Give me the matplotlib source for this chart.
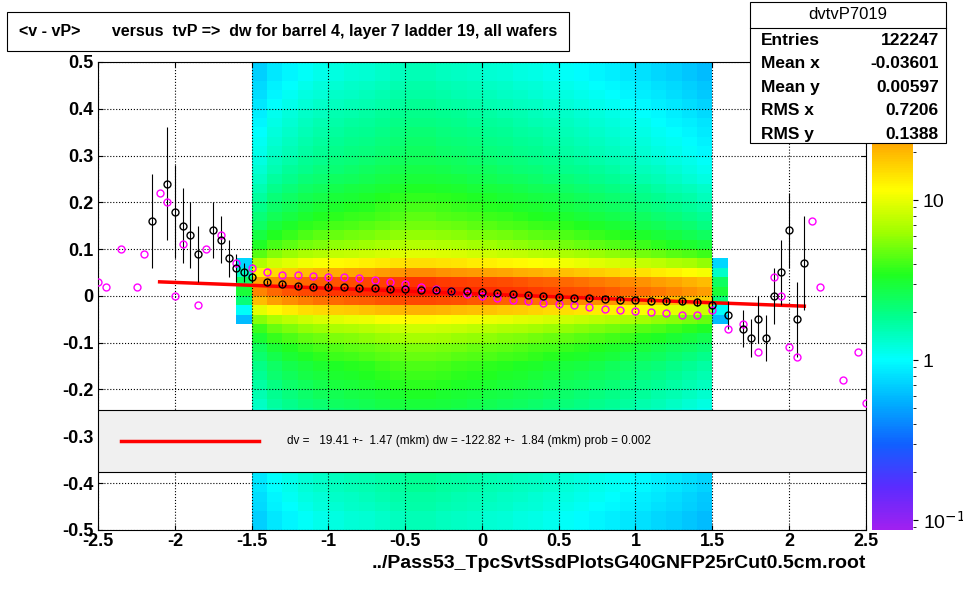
import numpy as np
import matplotlib
matplotlib.use('Agg')
import matplotlib.pyplot as plt
from matplotlib.colors import LinearSegmentedColormap, LogNorm
from matplotlib.patches import Rectangle

plt.rcParams['font.family'] = ['Liberation Sans', 'DejaVu Sans']

# column peak counts (x centers -2.45..2.45 step 0.1)
col_x = np.round(np.arange(-2.45, 2.5, 0.1), 2)
col_peak = [0, 0, 0, 0, 0, 0, 0, 0, 0, 3,
            28, 34, 38, 42, 45, 48, 50, 52, 55, 58,
            60, 60, 58, 56, 54, 52, 50, 48, 46, 44,
            42, 40, 38, 36, 34, 32, 30, 28, 26, 24,
            3, 0, 0, 0, 0, 0, 0, 0, 0, 0]
# row shape (y centers -0.49..0.49 step 0.02)
row_shape = [0.025, 0.025, 0.027, 0.028, 0.03, 0.03, 0.032, 0.034, 0.036, 0.038,
             0.04, 0.043, 0.046, 0.05, 0.055, 0.06, 0.065, 0.07, 0.08, 0.09,
             0.11, 0.14, 0.2, 0.35, 0.7, 1.0, 0.8, 0.45, 0.25, 0.16,
             0.12, 0.1, 0.085, 0.075, 0.068, 0.062, 0.056, 0.05, 0.046, 0.043,
             0.04, 0.038, 0.036, 0.034, 0.032, 0.03, 0.028, 0.027, 0.025, 0.025]

# black profile
blk_x = [-2.15, -2.05, -2.0, -1.95, -1.9, -1.85, -1.75, -1.7, -1.65, -1.6, -1.55, -1.5,
         -1.4, -1.3, -1.2, -1.1, -1.0, -0.9, -0.8, -0.7, -0.6, -0.5, -0.4, -0.3, -0.2, -0.1,
         0.0, 0.1, 0.2, 0.3, 0.4, 0.5, 0.6, 0.7, 0.8, 0.9, 1.0, 1.1, 1.2, 1.3, 1.4,
         1.5, 1.6, 1.7, 1.75, 1.8, 1.85, 1.9, 1.95, 2.0, 2.05, 2.1]
blk_y = [0.16, 0.24, 0.18, 0.15, 0.13, 0.09, 0.14, 0.12, 0.08, 0.06, 0.05, 0.04,
         0.03, 0.025, 0.022, 0.02, 0.02, 0.018, 0.017, 0.016, 0.015, 0.014, 0.013, 0.012, 0.011, 0.01,
         0.008, 0.006, 0.004, 0.002, 0.0, -0.002, -0.004, -0.005, -0.006, -0.008, -0.009, -0.01, -0.011, -0.012, -0.013,
         -0.02, -0.04, -0.07, -0.09, -0.05, -0.09, 0.0, 0.05, 0.14, -0.05, 0.07]
blk_err = [0.1, 0.12, 0.1, 0.08, 0.07, 0.06, 0.06, 0.05, 0.04, 0.03, 0.02, 0.01,
           0.005, 0.004, 0.003, 0.003, 0.003, 0.002, 0.002, 0.002, 0.002, 0.002, 0.002, 0.002, 0.002, 0.002,
           0.002, 0.002, 0.002, 0.002, 0.002, 0.002, 0.002, 0.002, 0.002, 0.003, 0.003, 0.003, 0.004, 0.005, 0.008,
           0.02, 0.03, 0.04, 0.04, 0.05, 0.05, 0.06, 0.07, 0.08, 0.08, 0.1]

# magenta profile
mag_x = [-2.5, -2.45, -2.35, -2.25, -2.2, -2.1, -2.05, -2.0, -1.95, -1.85, -1.8, -1.7, -1.6,
         -1.5, -1.4, -1.3, -1.2, -1.1, -1.0, -0.9, -0.8, -0.7, -0.6, -0.5, -0.4, -0.3, -0.2, -0.1,
         0.0, 0.1, 0.2, 0.3, 0.4, 0.5, 0.6, 0.7, 0.8, 0.9, 1.0, 1.1, 1.2, 1.3, 1.4,
         1.5, 1.6, 1.7, 1.8, 1.9, 1.95, 2.0, 2.05, 2.15, 2.2, 2.35, 2.45, 2.5]
mag_y = [0.03, 0.02, 0.1, 0.02, 0.09, 0.22, 0.2, 0.0, 0.11, -0.02, 0.1, 0.13, 0.07,
         0.06, 0.05, 0.045, 0.045, 0.042, 0.04, 0.04, 0.038, 0.035, 0.03, 0.025, 0.02, 0.015, 0.01, 0.005,
         0.0, -0.005, -0.008, -0.012, -0.015, -0.018, -0.02, -0.024, -0.027, -0.03, -0.032, -0.034, -0.036, -0.04, -0.04,
         -0.03, -0.07, -0.06, -0.12, 0.04, 0.0, -0.11, -0.13, 0.16, 0.02, -0.18, -0.12, -0.23]

fit_x = [-2.1, 2.1]
fit_y = [0.03, -0.022]

fig = plt.figure(figsize=(9.63, 5.90), dpi=100)
fig.patch.set_facecolor('white')
ax = fig.add_axes([0.102, 0.102, 0.797, 0.793])

cmap = LinearSegmentedColormap.from_list('root', [
    '#a020f0', '#5a2cff', '#1060ff', '#00b0ff', '#00ffff', '#00ff90',
    '#20ff20', '#a0ff00', '#ffff00', '#ffb000', '#ff5000', '#ff0000'])
norm = LogNorm(vmin=0.087, vmax=73)

z = np.outer(row_shape, col_peak)
z = np.ma.masked_less(z, 0.5)
xe = np.arange(-2.5, 2.5001, 0.1)
ye = np.arange(-0.5, 0.5001, 0.02)
mesh = ax.pcolormesh(xe, ye, z, cmap=cmap, norm=norm)

ax.plot(fit_x, fit_y, color='red', lw=2.5, zorder=4)
ax.errorbar(blk_x, blk_y, yerr=blk_err, fmt='o', mfc='none', mec='black', ecolor='black',
            ms=5, elinewidth=0.8, zorder=5)
ax.plot(mag_x, mag_y, 'o', mfc='none', mec='magenta', ms=5, zorder=5)

ax.set_xlim(-2.5, 2.5)
ax.set_ylim(-0.5, 0.5)
ax.set_xticks(np.arange(-2.5, 2.51, 0.5))
ax.set_xticklabels(['-2.5', '-2', '-1.5', '-1', '-0.5', '0', '0.5', '1', '1.5', '2', '2.5'])
ax.set_yticks(np.arange(-0.5, 0.51, 0.1))
ax.set_yticklabels(['-0.5', '-0.4', '-0.3', '-0.2', '-0.1', '0', '0.1', '0.2', '0.3', '0.4', '0.5'])
ax.tick_params(labelsize=13, direction='in', top=True, right=True)
ax.tick_params(axis='x', pad=2)
for t in ax.get_xticklabels() + ax.get_yticklabels():
    t.set_fontweight('bold')
ax.grid(True, color='black', ls=':', lw=0.8)
ax.set_xlabel('../Pass53_TpcSvtSsdPlotsG40GNFP25rCut0.5cm.root', fontsize=14,
              fontweight='bold', loc='right')

# legend box
ax.add_patch(Rectangle((-2.5, -0.376), 5.0, 0.132, facecolor='#f0f0f0', edgecolor='black',
                       lw=0.8, zorder=6))
ax.plot([-2.35, -1.45], [-0.31, -0.31], color='red', lw=2.5, zorder=7)
ax.text(-1.27, -0.31, 'dv =   19.41 +-  1.47 (mkm) dw = -122.82 +-  1.84 (mkm) prob = 0.002',
        fontsize=8.5, va='center', zorder=7)

# colorbar
cax = fig.add_axes([0.906, 0.102, 0.042, 0.793])
cb = fig.colorbar(mesh, cax=cax)
cb.set_ticks([0.1, 1, 10])
cb.set_ticklabels(['10$^{-1}$', '1', '10'])
cb.ax.tick_params(labelsize=14)
cb.outline.set_visible(False)

# title box
fig.text(0.02, 0.947, '<v - vP>       versus  tvP =>  dw for barrel 4, layer 7 ladder 19, all wafers',
         fontsize=11.5, fontweight='bold', va='center',
         bbox=dict(boxstyle='square,pad=0.75', fc='white', ec='black', lw=0.8))

# stats box
fig.patches.append(Rectangle((0.779, 0.757), 0.203, 0.24, transform=fig.transFigure,
                             fc='white', ec='black', lw=0.8, zorder=10))
fig.text(0.88, 0.975, 'dvtvP7019', ha='center', va='center', fontsize=12, zorder=11)
fig.lines.append(plt.Line2D([0.779, 0.982], [0.952, 0.952], transform=fig.transFigure,
                            color='black', lw=0.8, zorder=11))
rows = [('Entries', '122247'), ('Mean x', '-0.03601'), ('Mean y', '0.00597'),
        ('RMS x', '0.7206'), ('RMS y', '0.1388')]
for i, (k, v) in enumerate(rows):
    y = 0.932 - i * 0.04
    fig.text(0.79, y, k, fontsize=12.5, fontweight='bold', va='center', zorder=11)
    fig.text(0.975, y, v, fontsize=12.5, fontweight='bold', va='center', ha='right', zorder=11)

fig.savefig('out.png', dpi=100)
